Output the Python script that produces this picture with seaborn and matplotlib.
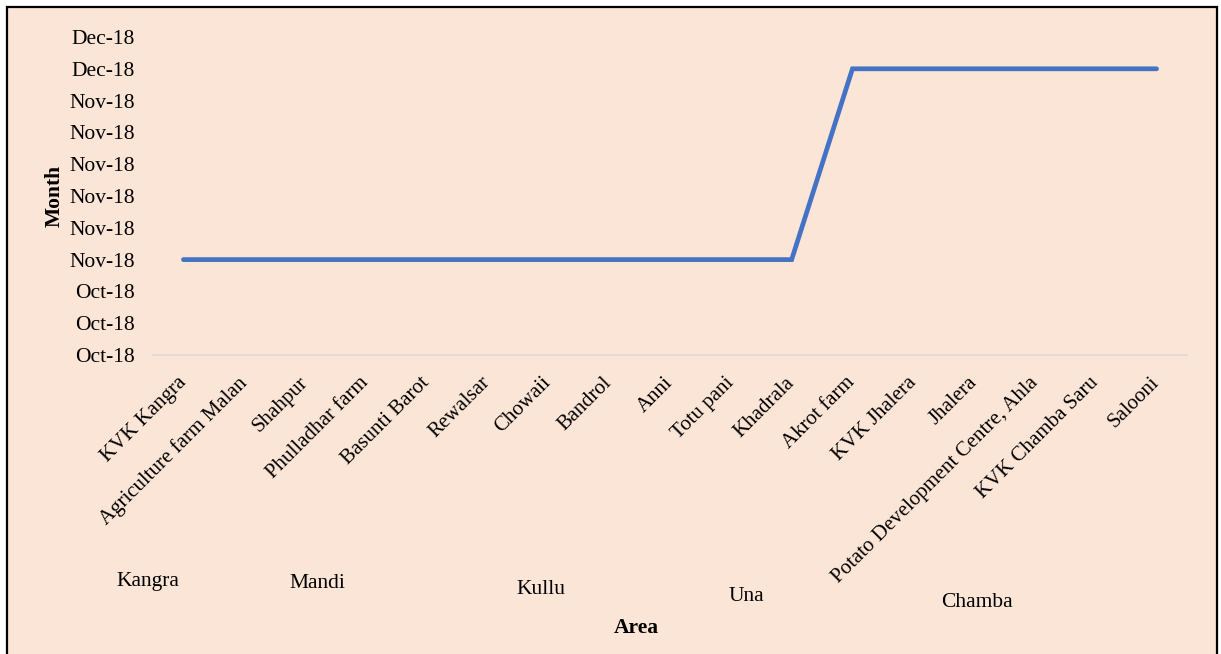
import matplotlib
matplotlib.use("Agg")
import matplotlib.pyplot as plt
import matplotlib.dates as mdates
from matplotlib.patches import Rectangle
import pandas as pd
import seaborn as sns

# Sampling sites and the month of observation at each
areas = ["KVK Kangra", "Agriculture farm Malan", "Shahpur", "Phulladhar farm",
         "Basunti Barot", "Rewalsar", "Chowaii", "Bandrol", "Anni", "Totu pani",
         "Khadrala", "Akrot farm", "KVK Jhalera", "Jhalera",
         "Potato Development Centre, Ahla", "KVK Chamba Saru", "Salooni"]
months = ["2018-11-01"] * 11 + ["2018-12-01"] * 6

# District group labels shown under the site names
districts = ["Kangra", "Mandi", "Kullu", "Una", "Chamba"]
district_x = [-0.59, 2.2, 5.88, 9.26, 13.04]
district_y = [-0.711, -0.718, -0.736, -0.758, -0.777]

# Month axis ticks
y_ticks = pd.date_range("2018-10-17", "2018-12-06", freq="5D")

df = pd.DataFrame({"pos": range(len(areas)), "area": areas,
                   "month": pd.to_datetime(months)})

sns.set_theme(style="white")
plt.rcParams["font.family"] = ["Liberation Serif", "DejaVu Serif"]
FS = 15.5

fig = plt.figure(figsize=(12.21, 6.54), dpi=100, facecolor="white")
frame = Rectangle((7 / 1221, -0.05), 1210 / 1221, 1.05 - 7 / 654,
                  transform=fig.transFigure, facecolor="#FBE5D6",
                  edgecolor="black", linewidth=1.6, zorder=-10)
fig.add_artist(frame)

ax = fig.add_axes([153 / 1221, 1 - 355 / 654, 1034 / 1221, 318 / 654])
ax.set_facecolor("none")
ax.set_zorder(5)

sns.lineplot(data=df, x="pos", y="month", ax=ax, color="#4472C4",
             linewidth=3.4, sort=False, solid_capstyle="round",
             solid_joinstyle="miter")

ax.set_xlim(-0.5, len(areas) - 0.5)
ax.set_ylim(y_ticks[0], y_ticks[-1])
ax.set_yticks(y_ticks)
ax.yaxis.set_major_formatter(mdates.DateFormatter("%b-%y"))
ax.set_xticks(range(len(areas)))
ax.set_xticklabels(areas, rotation=45, ha="right", va="center",
                   rotation_mode="anchor", fontsize=15, color="black")
ax.tick_params(axis="y", labelsize=FS, colors="black", length=0, pad=13)
ax.tick_params(axis="x", length=0, pad=18)

for s in ["top", "right", "left"]:
    ax.spines[s].set_visible(False)
ax.spines["bottom"].set_color("#D9D9D9")
ax.spines["bottom"].set_linewidth(1.2)
ax.grid(False)

ax.set_xlabel("")
ax.set_ylabel("Month", fontsize=FS, fontweight="bold", color="black", labelpad=3)

for name, x, y in zip(districts, district_x, district_y):
    ax.text(x, y, name, transform=ax.get_xaxis_transform(), ha="center",
            va="center", fontsize=FS, color="black")

ax.text(7.44, -0.858, "Area", transform=ax.get_xaxis_transform(), ha="center",
        va="center", fontsize=FS, fontweight="bold", color="black")

fig.savefig("out.png", dpi=100, facecolor="white")
